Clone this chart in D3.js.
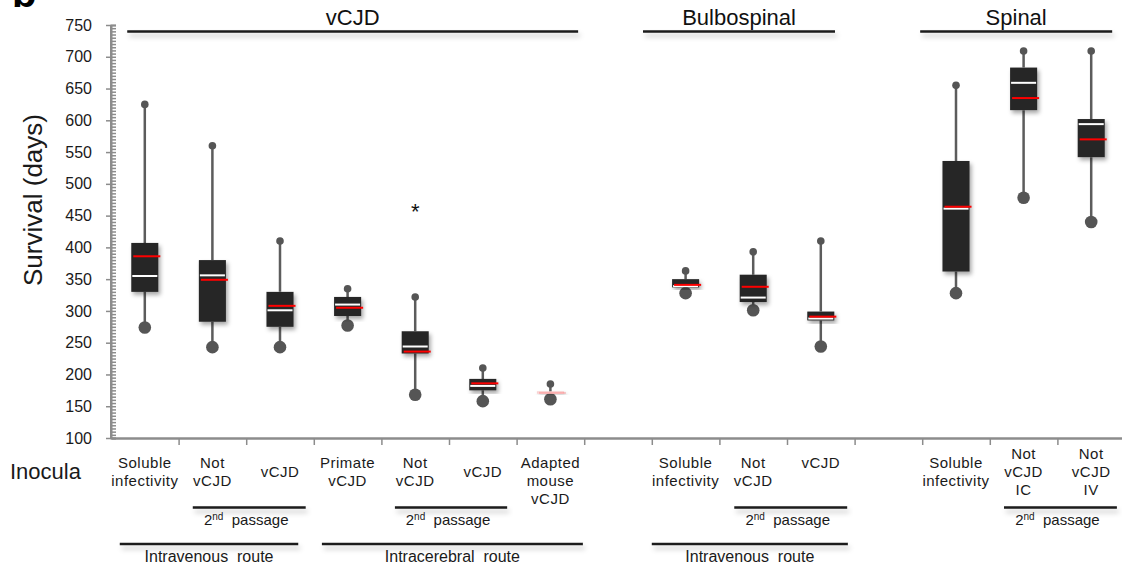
<!DOCTYPE html>
<html>
<head>
<meta charset="utf-8">
<script src="https://cdn.jsdelivr.net/npm/d3@7"></script>
<style>
  body { margin: 0; background: #fff; }
  svg { font-family: "Liberation Sans", Arial, sans-serif; }
  text { white-space: pre; }
</style>
</head>
<body>
<div id="chart"></div>
<script>
// slot labels along the x axis (empty slots are gaps between groups)
var slotLabels = [
    ["Soluble", "infectivity"], ["Not", "vCJD"], ["vCJD"], ["Primate", "vCJD"],
    ["Not", "vCJD"], ["vCJD"], ["Adapted", "mouse", "vCJD"], [],
    ["Soluble", "infectivity"], ["Not", "vCJD"], ["vCJD"], [],
    ["Soluble", "infectivity"], ["Not", "vCJD", "IC"], ["Not", "vCJD", "IV"]
];

// one box per inoculum (days)
var boxSlots  = [0, 1, 2, 3, 4, 5, 6, 8, 9, 10, 12, 13, 14];
var maxDays   = [625, 560, 410, 335, 322, 210, 185, 363, 393, 410, 655, 709, 709];
var q3Days    = [407, 380, 330, 322, 268, 193, 172, 350, 357, 299, 536, 683, 602];
var meanDays  = [386, 349, 308, 305, 236, 186, 171, 341, 338, 291, 464, 635, 570];
var medDays   = [355, 356, 301, 310, 244, 182, 171, 339, 321, 288, 461, 659, 594];
var q1Days    = [330, 283, 275, 292, 233, 175, 170, 337, 314, 285, 362, 616, 542];
var minDays   = [274, 243, 243, 277, 168, 158, 161, 328, 301, 244, 328, 478, 440];

var yTicks = [100, 150, 200, 250, 300, 350, 400, 450, 500, 550, 600, 650, 700, 750];

// brackets, in slot units
var groupTitles = ["vCJD", "Bulbospinal", "Spinal"];
var groupSpans  = [[0.24, 6.91], [7.87, 10.71], [11.97, 14.81]];
var passageSpans = [[1.21, 2.88], [4.20, 5.86], [9.22, 10.89], [13.21, 14.88]];
var routeTitles = ["Intravenous  route", "Intracerebral  route", "Intravenous  route"];
var routeSpans  = [[0.13, 2.77], [3.12, 6.98], [8.0, 10.9]];

var starSlots = [4];
var starDays  = [465];

var width = 1122, height = 571;

var svg = d3.select('#chart').append('svg')
    .attr('width', width)
    .attr('height', height);

var defs = svg.append('defs');
defs.append('filter').attr('id', 'boxShadow')
    .attr('x', '-30%').attr('y', '-30%').attr('width', '160%').attr('height', '160%')
    .append('feDropShadow')
    .attr('dx', 2).attr('dy', 3).attr('stdDeviation', 2.2)
    .attr('flood-color', '#000').attr('flood-opacity', 0.35);
defs.append('filter').attr('id', 'lineShadow')
    .attr('x', '-5%').attr('y', '-300%').attr('width', '110%').attr('height', '800%')
    .append('feDropShadow')
    .attr('dx', 2).attr('dy', 4).attr('stdDeviation', 2.5)
    .attr('flood-color', '#000').attr('flood-opacity', 0.22);

var y = d3.scaleLinear().domain([100, 750]).range([438, 25]);
var x = d3.scaleBand().domain(d3.range(slotLabels.length)).range([111, 1125]).padding(0);
var slotX = d3.scaleLinear().domain([0, slotLabels.length]).range([111, 1125]);
var bw = x.bandwidth() * 0.4;

var axisColor = '#8c8c8c';

// panel letter, cropped at top
svg.append('text').attr('x', 12).attr('y', 7)
    .style('font-size', '40px').style('font-weight', 'bold').text('b');

// y axis: minor ticks to the right, major ticks across
var minor = svg.append('g').attr('transform', 'translate(111,0)')
    .call(d3.axisRight(y).tickValues(d3.range(100, 751, 5)).tickSize(5).tickFormat(''));
var major = svg.append('g').attr('transform', 'translate(111,0)')
    .call(d3.axisLeft(y).tickValues(yTicks).tickSize(5).tickPadding(14).tickSizeOuter(0));
[minor, major].forEach(function (g) {
    g.select('.domain').attr('stroke', axisColor).attr('stroke-width', 2);
    g.selectAll('.tick line').attr('stroke', axisColor).attr('stroke-width', 1.5);
});
major.select('.domain').attr('d', 'M0,' + y(750) + 'V' + (y(100) + 1));
major.selectAll('.tick text').style('font-size', '16px').attr('fill', '#1a1a1a')
    .style('font-family', '"Liberation Sans", Arial, sans-serif');

// x axis with ticks at slot boundaries
var xa = svg.append('g').attr('transform', 'translate(0,438)')
    .call(d3.axisBottom(slotX).tickValues(d3.range(1, slotLabels.length)).tickSize(7).tickSizeOuter(0).tickFormat(''));
xa.select('.domain').attr('stroke', axisColor).attr('stroke-width', 2.5);
xa.selectAll('.tick line').attr('stroke', axisColor).attr('stroke-width', 1.5);

svg.append('text')
    .attr('transform', 'translate(42,200) rotate(-90)')
    .attr('text-anchor', 'middle')
    .style('font-size', '26px').attr('fill', '#1a1a1a')
    .text('Survival (days)');

// boxes
var boxes = boxSlots.map(function (s, i) {
    return { slot: s, max: maxDays[i], q3: q3Days[i], mean: meanDays[i],
             med: medDays[i], q1: q1Days[i], min: minDays[i] };
});

var bx = function (d) { return x(d.slot) + x.bandwidth() / 2; };
var flat = function (d) { return y(d.q1) - y(d.q3) < 2; };

var g = svg.append('g');
g.selectAll('.whisker').data(boxes).enter().append('path')
    .attr('d', function (d) {
        return 'M' + bx(d) + ',' + y(d.max) + 'V' + y(d.q3) +
               'M' + bx(d) + ',' + y(d.q1) + 'V' + y(d.min);
    })
    .attr('stroke', '#5c5c5c').attr('stroke-width', 2.5).attr('fill', 'none');

g.selectAll('.topdot').data(boxes).enter().append('circle')
    .attr('cx', bx).attr('cy', function (d) { return y(d.max); })
    .attr('r', 3.8).attr('fill', '#555');
g.selectAll('.botdot').data(boxes).enter().append('circle')
    .attr('cx', bx).attr('cy', function (d) { return y(d.min); })
    .attr('r', 6.3).attr('fill', '#555');

g.selectAll('.box').data(boxes).enter().append('rect')
    .attr('x', function (d) { return bx(d) - bw / 2; })
    .attr('y', function (d) { return flat(d) ? y(d.q3) - 1 : y(d.q3); })
    .attr('width', bw)
    .attr('height', function (d) { return Math.max(2.5, y(d.q1) - y(d.q3)); })
    .attr('fill', function (d) { return flat(d) ? '#f7d0d0' : '#262626'; })
    .attr('filter', 'url(#boxShadow)');

g.selectAll('.median').data(boxes).enter().append('line')
    .attr('x1', function (d) { return bx(d) - bw / 2 + 1; })
    .attr('x2', function (d) { return bx(d) + bw / 2 - 1; })
    .attr('y1', function (d) { return y(d.med); })
    .attr('y2', function (d) { return y(d.med); })
    .attr('stroke', function (d) { return flat(d) ? '#fbe3e3' : '#fff'; })
    .attr('stroke-width', function (d) { return flat(d) ? 1 : 2; });

g.selectAll('.mean').data(boxes).enter().append('line')
    .attr('x1', function (d) { return bx(d) - bw / 2 + 2; })
    .attr('x2', function (d) { return bx(d) + bw / 2 + 2; })
    .attr('y1', function (d) { return y(d.mean); })
    .attr('y2', function (d) { return y(d.mean); })
    .attr('stroke', '#ff0000')
    .attr('stroke-opacity', function (d) { return flat(d) ? 0.2 : 1; })
    .attr('stroke-width', 2);

// significance star
svg.selectAll('.star').data(starSlots).enter().append('text')
    .attr('x', function (s) { return x(s) + x.bandwidth() / 2; })
    .attr('y', function (s, i) { return y(starDays[i]) + 13; })
    .attr('text-anchor', 'middle')
    .style('font-size', '22px').attr('fill', '#111')
    .text('*');

// bracket bars (rects so the shadow filter has a real box)
function bracket(spans, yy) {
    svg.append('g').selectAll('rect').data(spans).enter().append('rect')
        .attr('x', function (d) { return slotX(d[0]); })
        .attr('width', function (d) { return slotX(d[1]) - slotX(d[0]); })
        .attr('y', yy - 1.25).attr('height', 2.5)
        .attr('fill', '#1a1a1a')
        .attr('filter', 'url(#lineShadow)');
}
bracket(groupSpans, 31.5);
svg.selectAll('.gtitle').data(groupTitles).enter().append('text')
    .attr('x', function (t, i) { return slotX((groupSpans[i][0] + groupSpans[i][1]) / 2); })
    .attr('y', 25)
    .attr('text-anchor', 'middle')
    .style('font-size', '22px').attr('fill', '#111')
    .text(function (t) { return t; });

// inocula labels
svg.append('text').attr('x', 10).attr('y', 479)
    .style('font-size', '22px').attr('fill', '#1a1a1a').text('Inocula');

var topAligned = [6, 10];
var lab = svg.append('g');
slotLabels.forEach(function (lines, s) {
    if (!lines.length) return;
    var y0 = topAligned.indexOf(s) >= 0 ? 467.5 : 477 - (lines.length - 1) * 9;
    var t = lab.append('text')
        .attr('text-anchor', 'middle')
        .style('font-size', '15px').style('letter-spacing', '0.5px').attr('fill', '#1a1a1a');
    lines.forEach(function (l, k) {
        t.append('tspan').attr('x', x(s) + x.bandwidth() / 2)
            .attr('y', y0 + k * 18).text(l);
    });
});

// 2nd passage brackets
bracket(passageSpans, 507.5);
passageSpans.forEach(function (d) {
    var t = svg.append('text')
        .attr('x', slotX((d[0] + d[1]) / 2) - 3).attr('y', 525)
        .attr('text-anchor', 'middle')
        .style('font-size', '15px').attr('fill', '#1a1a1a');
    t.append('tspan').text('2');
    t.append('tspan').attr('dy', -5).style('font-size', '10px').text('nd');
    t.append('tspan').attr('dy', 5).text('  passage');
});

// route brackets
bracket(routeSpans, 544);
svg.selectAll('.rtitle').data(routeTitles).enter().append('text')
    .attr('x', function (t, i) { return slotX((routeSpans[i][0] + routeSpans[i][1]) / 2); })
    .attr('y', 562)
    .attr('text-anchor', 'middle')
    .style('font-size', '16px').attr('fill', '#1a1a1a')
    .text(function (t) { return t; });
</script>
</body>
</html>
